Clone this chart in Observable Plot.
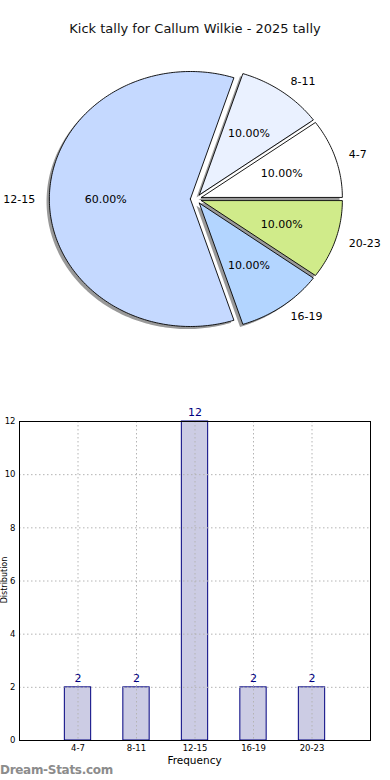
<!DOCTYPE html>
<html><head><meta charset="utf-8">
<script src="https://cdn.jsdelivr.net/npm/d3@7"></script>
<script src="https://cdn.jsdelivr.net/npm/@observablehq/plot@0.6"></script>
<style>
body{margin:0;background:#fff;font-family:"DejaVu Sans",sans-serif;}
#wrap{position:relative;width:390px;height:780px;overflow:hidden;background:#fff;}
.abs{position:absolute;}
</style></head><body><div id="wrap"></div>
<script>
// ---- data ----
const title = "Kick tally for Callum Wilkie - 2025 tally";
const categories = ["4-7", "8-11", "12-15", "16-19", "20-23"];
const counts = [2, 2, 12, 2, 2];
const pieColors = ["#ffffff", "#eaf1ff", "#c5d9ff", "#b3d5ff", "#d0eb8a"];
const yTicks = [0, 2, 4, 6, 8, 10, 12];
const xLabel = "Frequency";
const yLabel = "Distribution";
const watermark = "Dream-Stats.com";

const wrap = document.getElementById("wrap");
const font = "DejaVu Sans";

// ---- title ----
const t = document.createElement("div");
t.className = "abs";
t.style.cssText = "left:0;width:390px;top:21px;text-align:center;font-size:13px;color:#111;";
t.textContent = title;
wrap.appendChild(t);

// ---- pie geometry (unit circle, exploded) ----
const total = d3.sum(counts);
const explode = 0.04, lblDist = 1.1, pctDist = 0.6;
const cum = [0, ...d3.cumsum(counts)];
const slices = categories.map((c, i) => {
  const a1 = cum[i] / total * 2 * Math.PI, a2 = cum[i + 1] / total * 2 * Math.PI;
  const am = (a1 + a2) / 2;
  const cx = explode * Math.cos(am), cy = explode * Math.sin(am);
  return {c, i, a1, a2, am, cx, cy, v: counts[i], color: pieColors[i],
    pct: (counts[i] / total * 100).toFixed(2) + "%"};
});
const poly = [];
for (const s of slices) {
  poly.push({k: s.c, x: s.cx, y: s.cy, color: s.color});
  const n = Math.max(8, Math.ceil((s.a2 - s.a1) / (Math.PI / 180)));
  for (let j = 0; j <= n; j++) {
    const a = s.a1 + (s.a2 - s.a1) * j / n;
    poly.push({k: s.c, x: s.cx + Math.cos(a), y: s.cy + Math.sin(a), color: s.color});
  }
  poly.push({k: s.c, x: s.cx, y: s.cy, color: s.color});
}
const shOx = -0.02, shOy = -0.02;
const labels = slices.map(s => ({
  text: s.c,
  x: s.cx + lblDist * Math.cos(s.am),
  y: s.cy + lblDist * Math.sin(s.am)
}));
const pcts = slices.map(s => ({
  text: s.pct,
  x: s.cx + pctDist * Math.cos(s.am),
  y: s.cy + pctDist * Math.sin(s.am)
}));

const rx = 141, ry = 127.5, pcx = 195.5, pcy = 198.5, pieH = 370;
const pie = Plot.plot({
  width: 390, height: pieH, margin: 0,
  x: {domain: [-pcx / rx, (390 - pcx) / rx], axis: null},
  y: {domain: [-(pieH - pcy) / ry, pcy / ry], axis: null},
  style: {fontFamily: font, background: "transparent", overflow: "visible"},
  marks: [
    Plot.line(poly, {x: d => d.x + shOx, y: d => d.y + shOy, z: "k", fill: "#333", fillOpacity: 0.5, stroke: "none", curve: "linear"}),
    Plot.line(poly, {x: "x", y: "y", z: "k", fill: "color", stroke: "#000", strokeWidth: 0.9, curve: "linear", strokeLinejoin: "round"}),
    Plot.text(labels.filter(d => d.x > 0), {x: "x", y: "y", text: "text", textAnchor: "start", fontSize: 11, fill: "#000"}),
    Plot.text(labels.filter(d => d.x <= 0), {x: "x", y: "y", text: "text", textAnchor: "end", fontSize: 11, fill: "#000"}),
    Plot.text(pcts, {x: "x", y: "y", text: "text", fontSize: 11, fill: "#000"})
  ]
});
pie.classList.add("abs");
pie.style.left = "0px"; pie.style.top = "0px";
wrap.appendChild(pie);

// ---- bar chart ----
const bars = categories.map((c, i) => ({c, i, v: counts[i]}));
const barTop = 400, barH = 380;
const bar = Plot.plot({
  width: 390, height: barH,
  marginLeft: 19, marginRight: 20, marginTop: 21, marginBottom: 40,
  x: {domain: [-1, 5]},
  y: {domain: [0, 12]},
  style: {fontFamily: font, background: "transparent", overflow: "visible"},
  marks: [
    Plot.rect(bars, {x1: d => d.i - 0.225, x2: d => d.i + 0.225, y1: 0, y2: "v", fill: "#ccccE4", stroke: "#000080", strokeWidth: 1}),
    Plot.gridX(d3.range(categories.length), {stroke: "#b4b4b4", strokeOpacity: 1, strokeDasharray: "1.5,2.5"}),
    Plot.gridY(yTicks, {stroke: "#b4b4b4", strokeOpacity: 1, strokeDasharray: "1.5,2.5"}),
    Plot.frame({stroke: "#000", strokeWidth: 1}),
    Plot.axisX(d3.range(categories.length), {tickFormat: i => categories[i], tickSize: 0, tickPadding: 4, fontSize: 8.5, label: null}),
    Plot.axisY(yTicks, {tickSize: 0, tickPadding: 4, fontSize: 8.5, label: null}),
    Plot.text(bars, {x: "i", y: "v", text: d => String(d.v), dy: -9, fontSize: 11, fill: "#000080"})
  ]
});
bar.classList.add("abs");
bar.style.left = "0px"; bar.style.top = barTop + "px";
wrap.appendChild(bar);

// x label
const xl = document.createElement("div");
xl.className = "abs";
xl.style.cssText = "left:19px;width:351px;top:754px;text-align:center;font-size:10.5px;color:#000;";
xl.textContent = xLabel;
wrap.appendChild(xl);

// y label (rotated, squeezed into the narrow left margin)
const yl = document.createElement("div");
yl.className = "abs";
yl.style.cssText = "left:-45.5px;top:574px;width:100px;height:12px;text-align:center;font-size:8px;line-height:12px;color:#000;transform:rotate(-90deg);transform-origin:50% 50%;";
yl.textContent = yLabel;
wrap.appendChild(yl);

// watermark
const wm = document.createElement("div");
wm.className = "abs";
wm.style.cssText = "left:0px;top:763px;font-size:12px;color:#8c8c8c;font-weight:bold;letter-spacing:-0.3px;";
wm.textContent = watermark;
wrap.appendChild(wm);
</script>
</body></html>
